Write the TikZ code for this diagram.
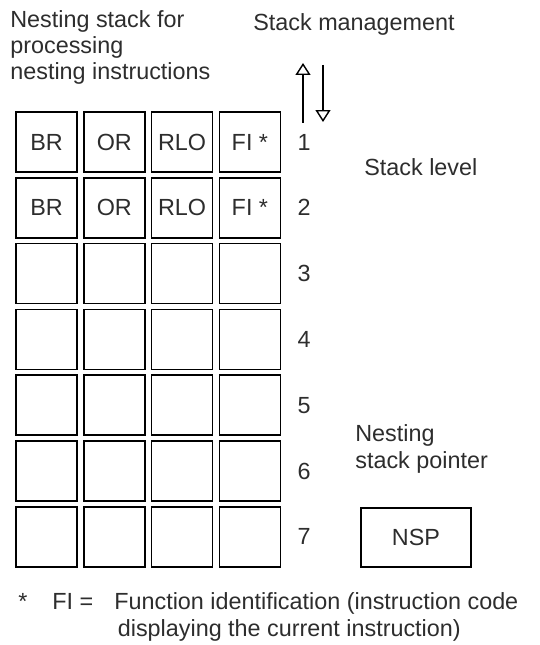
\documentclass[tikz,border=0pt]{standalone}
\usepackage{fontspec}
\setmainfont{Liberation Sans}
\usepackage{xcolor}
\usepackage{tikz}
\usetikzlibrary{positioning,arrows.meta}
\definecolor{inkgray}{RGB}{45,45,45}

\begin{document}
\begin{tikzpicture}[x=0.02cm, y=-0.02cm, font=\fontsize{13.3}{15}\selectfont, text=inkgray]
\tikzset{
  cell/.style={draw, line width=1pt, minimum width=1.22cm, minimum height=1.2cm, inner sep=0pt},
  lvl/.style={inner sep=0pt},
  txt/.style={inner sep=0pt, align=left, anchor=base west},
  stackarrow/.style={line width=0.8pt, -{Triangle[open, length=0.24cm, width=0.3cm]}}
}
\useasboundingbox (0,0) rectangle (540,645);

% headings (base = last line)
\node[txt] (title) at (10,80) {Nesting stack for\\processing\\nesting instructions};
\node[txt] (mgmt) at (253,31) {Stack management};

% stack cells, rows 1 and 2 filled
\foreach \r in {1,2}
  \foreach \t [count=\c] in {BR,OR,RLO,FI *}
    \node[cell] (c\r\c) at ({46.5+67.8*(\c-1)}, {142+65.8*(\r-1)}) {\t};
\foreach \r in {3,...,7}
  \foreach \c in {1,...,4}
    \node[cell] (c\r\c) at ({46.5+67.8*(\c-1)}, {142+65.8*(\r-1)}) {};

% stack levels
\foreach \r in {1,...,7}
  \node[lvl] (n\r) at (304, {142+65.8*(\r-1)}) {\r};

% push / pop arrows
\coordinate (up-s) at (303,123);
\coordinate (up-e) at (303,63);
\coordinate (dn-s) at (323,65);
\coordinate (dn-e) at (323,122);
\draw[stackarrow] (up-s) -- (up-e);
\draw[stackarrow] (dn-s) -- (dn-e);

\node[txt] (level) at (364,175) {Stack level};
\node[txt] (nsplabel) at (355,468) {Nesting\\stack pointer};
\node[draw, line width=1pt, minimum width=2.2cm, minimum height=1.18cm] (nsp) at (416,537.5) {NSP};

% footnote
\node[txt] (star) at (18,609) {*};
\node[txt] (fi) at (52,609) {FI =};
\node[txt] (fidesc) at (114,636) {Function identification (instruction code\\\hspace*{2pt}displaying the current instruction)};
\end{tikzpicture}
\end{document}
